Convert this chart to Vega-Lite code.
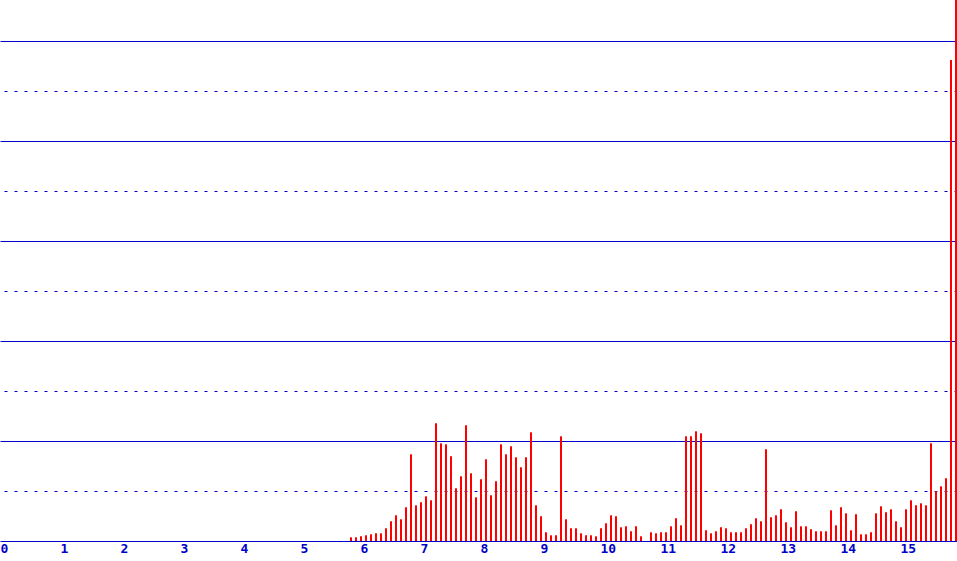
{
  "$schema": "https://vega.github.io/schema/vega-lite/v6.json",
  "width": 957,
  "height": 541,
  "autosize": {"type": "none"},
  "padding": {"left": 0, "top": 0, "right": 0, "bottom": 20},
  "background": "white",
  "config": {"view": {"stroke": null}},
  "data": {"values": [
    {"x": 5.8333, "v": 0.037}, {"x": 5.9167, "v": 0.037}, {"x": 6.0, "v": 0.047}, {"x": 6.0833, "v": 0.057},
    {"x": 6.1667, "v": 0.067}, {"x": 6.25, "v": 0.077}, {"x": 6.3333, "v": 0.077}, {"x": 6.4167, "v": 0.127},
    {"x": 6.5, "v": 0.197}, {"x": 6.5833, "v": 0.257}, {"x": 6.6667, "v": 0.217}, {"x": 6.75, "v": 0.337},
    {"x": 6.8333, "v": 0.867}, {"x": 6.9167, "v": 0.357}, {"x": 7.0, "v": 0.387}, {"x": 7.0833, "v": 0.447},
    {"x": 7.1667, "v": 0.407}, {"x": 7.25, "v": 1.177}, {"x": 7.3333, "v": 0.977}, {"x": 7.4167, "v": 0.967},
    {"x": 7.5, "v": 0.847}, {"x": 7.5833, "v": 0.527}, {"x": 7.6667, "v": 0.647}, {"x": 7.75, "v": 1.157},
    {"x": 7.8333, "v": 0.677}, {"x": 7.9167, "v": 0.437}, {"x": 8.0, "v": 0.617}, {"x": 8.0833, "v": 0.817},
    {"x": 8.1667, "v": 0.457}, {"x": 8.25, "v": 0.597}, {"x": 8.3333, "v": 0.967}, {"x": 8.4167, "v": 0.867},
    {"x": 8.5, "v": 0.947}, {"x": 8.5833, "v": 0.837}, {"x": 8.6667, "v": 0.737}, {"x": 8.75, "v": 0.837},
    {"x": 8.8333, "v": 1.087}, {"x": 8.9167, "v": 0.357}, {"x": 9.0, "v": 0.247}, {"x": 9.0833, "v": 0.087},
    {"x": 9.1667, "v": 0.057}, {"x": 9.25, "v": 0.057}, {"x": 9.3333, "v": 1.047}, {"x": 9.4167, "v": 0.217},
    {"x": 9.5, "v": 0.127}, {"x": 9.5833, "v": 0.127}, {"x": 9.6667, "v": 0.077}, {"x": 9.75, "v": 0.057},
    {"x": 9.8333, "v": 0.057}, {"x": 9.9167, "v": 0.047}, {"x": 10.0, "v": 0.127}, {"x": 10.0833, "v": 0.177},
    {"x": 10.1667, "v": 0.257}, {"x": 10.25, "v": 0.247}, {"x": 10.3333, "v": 0.137}, {"x": 10.4167, "v": 0.147},
    {"x": 10.5, "v": 0.097}, {"x": 10.5833, "v": 0.147}, {"x": 10.6667, "v": 0.047},
    {"x": 10.8333, "v": 0.087}, {"x": 10.9167, "v": 0.077}, {"x": 11.0, "v": 0.087}, {"x": 11.0833, "v": 0.087},
    {"x": 11.1667, "v": 0.147}, {"x": 11.25, "v": 0.227}, {"x": 11.3333, "v": 0.157}, {"x": 11.4167, "v": 1.047},
    {"x": 11.5, "v": 1.047}, {"x": 11.5833, "v": 1.097}, {"x": 11.6667, "v": 1.077}, {"x": 11.75, "v": 0.107},
    {"x": 11.8333, "v": 0.077}, {"x": 11.9167, "v": 0.097}, {"x": 12.0, "v": 0.137}, {"x": 12.0833, "v": 0.127},
    {"x": 12.1667, "v": 0.087}, {"x": 12.25, "v": 0.087}, {"x": 12.3333, "v": 0.087}, {"x": 12.4167, "v": 0.127},
    {"x": 12.5, "v": 0.167}, {"x": 12.5833, "v": 0.227}, {"x": 12.6667, "v": 0.197}, {"x": 12.75, "v": 0.917},
    {"x": 12.8333, "v": 0.237}, {"x": 12.9167, "v": 0.257}, {"x": 13.0, "v": 0.317}, {"x": 13.0833, "v": 0.187},
    {"x": 13.1667, "v": 0.137}, {"x": 13.25, "v": 0.297}, {"x": 13.3333, "v": 0.147}, {"x": 13.4167, "v": 0.147},
    {"x": 13.5, "v": 0.117}, {"x": 13.5833, "v": 0.097}, {"x": 13.6667, "v": 0.097}, {"x": 13.75, "v": 0.097},
    {"x": 13.8333, "v": 0.307}, {"x": 13.9167, "v": 0.157}, {"x": 14.0, "v": 0.337}, {"x": 14.0833, "v": 0.277},
    {"x": 14.1667, "v": 0.107}, {"x": 14.25, "v": 0.267}, {"x": 14.3333, "v": 0.067}, {"x": 14.4167, "v": 0.067},
    {"x": 14.5, "v": 0.087}, {"x": 14.5833, "v": 0.277}, {"x": 14.6667, "v": 0.347}, {"x": 14.75, "v": 0.287},
    {"x": 14.8333, "v": 0.317}, {"x": 14.9167, "v": 0.197}, {"x": 15.0, "v": 0.137}, {"x": 15.0833, "v": 0.317},
    {"x": 15.1667, "v": 0.407}, {"x": 15.25, "v": 0.357}, {"x": 15.3333, "v": 0.377}, {"x": 15.4167, "v": 0.357},
    {"x": 15.5, "v": 0.977}, {"x": 15.5833, "v": 0.497}, {"x": 15.6667, "v": 0.547}, {"x": 15.75, "v": 0.627},
    {"x": 15.8333, "v": 4.81}, {"x": 15.9167, "v": 5.41}
  ]},
  "layer": [
    {
      "mark": {"type": "bar", "width": 2, "xOffset": 1, "color": "#ff0000"},
      "encoding": {
        "x": {
          "field": "x", "type": "quantitative",
          "scale": {"domain": [0, 15.95], "nice": false, "zero": true, "padding": 0},
          "axis": {
            "values": [0, 1, 2, 3, 4, 5, 6, 7, 8, 9, 10, 11, 12, 13, 14, 15],
            "grid": false, "ticks": false, "domain": false, "title": null,
            "format": "d", "labelAlign": "left", "labelBaseline": "top", "labelPadding": 1,
            "labelColor": "#0000cc", "labelFont": "DejaVu Sans Mono", "labelFontWeight": "bold",
            "labelFontSize": 13, "labelFlush": false, "labelOverlap": false
          }
        },
        "y": {
          "field": "v", "type": "quantitative",
          "scale": {"domain": [0, 5.41], "nice": false, "zero": true, "padding": 0},
          "axis": {
            "values": [0, 1, 2, 3, 4, 5],
            "grid": true, "gridColor": "#0000cc", "gridWidth": 1, "gridOpacity": 1,
            "labels": false, "ticks": false, "domain": false, "title": null
          }
        }
      }
    },
    {
      "mark": {"type": "rule", "opacity": 0},
      "encoding": {
        "y": {
          "field": "v", "type": "quantitative",
          "axis": {
            "orient": "right",
            "values": [0.5, 1.5, 2.5, 3.5, 4.5],
            "grid": true, "gridColor": "#0000cc", "gridWidth": 1, "gridOpacity": 1,
            "gridDash": [3, 7], "gridDashOffset": 0,
            "labels": false, "ticks": false, "domain": false, "title": null
          }
        }
      }
    }
  ],
  "resolve": {"axis": {"y": "independent"}}
}
